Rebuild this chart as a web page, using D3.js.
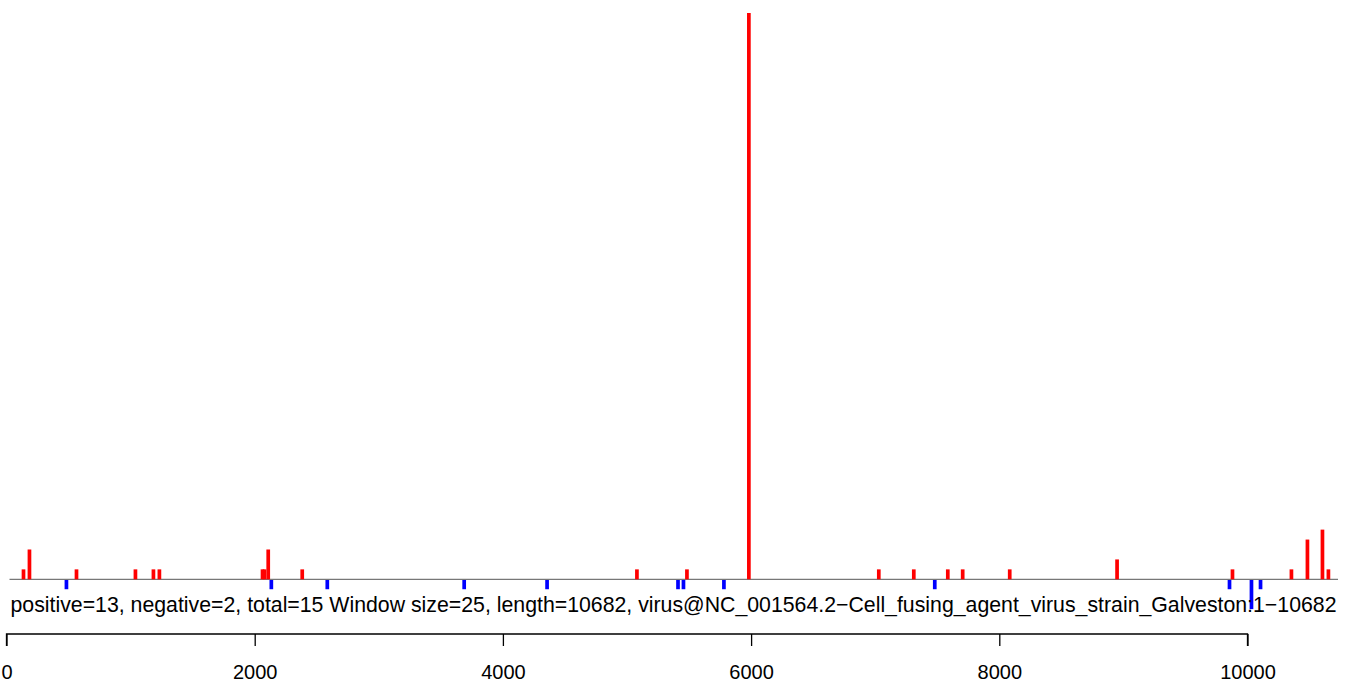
<!DOCTYPE html>
<html><head><meta charset="utf-8">
<script src="https://cdn.jsdelivr.net/npm/d3@7"></script>
<style>body{margin:0;background:#fff;}svg{display:block;}</style>
</head><body>
<svg id="c" width="1350" height="685"></svg>
<script>
// positions (nt) and scores of positive (red) windows
const posPositions = [137, 185, 564, 1039, 1184, 1232, 2063, 2079, 2109, 2383, 5080, 5483, 5982, 7029, 7311, 7585, 7705, 8084, 8949, 9879, 10354, 10483, 10604, 10652];
const posValues    = [1, 3, 1, 1, 1, 1, 1, 1, 3, 1, 1, 1, 57, 1, 1, 1, 1, 1, 2, 1, 1, 4, 5, 1];
// positions and scores of negative (blue) windows
const negPositions = [483, 2134, 2585, 3688, 4356, 5411, 5455, 5781, 7480, 9855, 10032, 10105];
const negValues    = [-1, -1, -1, -1, -1, -1, -1, -1, -1, -1, -3, -1];
const tickValues = [0, 2000, 4000, 6000, 8000, 10000];
const caption = "positive=13, negative=2, total=15 Window size=25, length=10682, virus@NC_001564.2\u2212Cell_fusing_agent_virus_strain_Galveston:1\u221210682";

const svg = d3.select("#c");
const x = d3.scaleLinear().domain([0, 10000]).range([6.5, 1247.5]);
const y = d3.scaleLinear().domain([0, 57]).range([579.3, 13]);
const bw = 3.7;
const font = "'Liberation Sans', Arial, Helvetica, sans-serif";

// baseline
svg.append("line").attr("x1", 9.5).attr("x2", 1338).attr("y1", y(0)).attr("y2", y(0))
  .attr("stroke", "#555").attr("stroke-width", 1);

svg.append("g").selectAll("rect").data(posPositions.map((p, i) => ({p, v: posValues[i]})))
  .join("rect")
  .attr("x", d => x(d.p) - bw / 2).attr("width", bw)
  .attr("y", d => y(d.v)).attr("height", d => y(0) - y(d.v))
  .attr("fill", "#ff0000");

svg.append("g").selectAll("rect").data(negPositions.map((p, i) => ({p, v: negValues[i]})))
  .join("rect")
  .attr("x", d => x(d.p) - bw / 2).attr("width", bw)
  .attr("y", y(0) + 0.7).attr("height", d => y(d.v) - y(0) - 0.7)
  .attr("fill", "#0000ff");

// caption
const cap = svg.append("text").attr("x", 673.5).attr("y", 612).attr("text-anchor", "middle")
  .attr("font-family", font).attr("font-size", 18).attr("fill", "#000").text(caption);
const w = cap.node().getComputedTextLength();
cap.attr("font-size", 18 * 1327 / w);

// axis
const ax = svg.append("g").attr("transform", "translate(0,634)")
  .call(d3.axisBottom(x).tickValues(tickValues).tickSize(12).tickFormat(d3.format("d")));
ax.select(".domain").attr("stroke", "#000").attr("stroke-width", 1.3).attr("d", `M${x(0)},12V0H${x(10000)}V12`);
ax.selectAll(".tick line").attr("stroke", "#000").attr("stroke-width", 1.3);
ax.selectAll(".tick text").attr("font-family", font).attr("font-size", 20).attr("fill", "#000")
  .attr("y", 45).attr("dy", null);
</script>
</body></html>
